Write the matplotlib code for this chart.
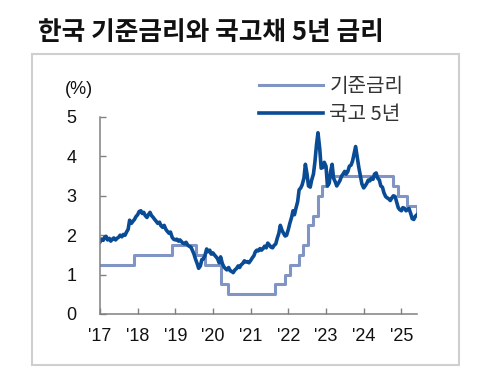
import matplotlib
matplotlib.use("Agg")
import matplotlib.pyplot as plt
import matplotlib.dates as mdates
from matplotlib.patches import Rectangle
import pandas as pd

plt.rcParams['font.family'] = ['Liberation Sans', 'Noto Sans CJK KR', 'DejaVu Sans']

title = "한국 기준금리와 국고채 5년 금리"
label_base = "기준금리"
label_bond = "국고 5년"
y_unit = "(%)"

# Bank of Korea base rate (change dates and new levels)
base_dates = ["2016-06-09", "2017-11-30", "2018-11-30", "2019-07-18", "2019-10-16",
              "2020-03-16", "2020-05-28", "2021-08-26", "2021-11-25", "2022-01-14",
              "2022-04-14", "2022-05-26", "2022-07-13", "2022-08-25", "2022-10-12",
              "2022-11-24", "2023-01-13", "2024-10-11", "2024-11-28", "2025-02-25",
              "2025-05-29", "2025-06-01"]
base_rates = [1.25, 1.50, 1.75, 1.50, 1.25,
              0.75, 0.50, 0.75, 1.00, 1.25,
              1.50, 1.75, 2.25, 2.50, 3.00,
              3.25, 3.50, 3.25, 3.00, 2.75,
              2.50, 2.50]

# KTB 5-year yield, semi-monthly (1st, 15th) from 2017-01-01
bond_2017 = [1.83, 1.90, 1.87, 1.95, 1.97, 1.88, 1.92, 1.85, 1.90, 1.93, 1.88, 1.92,
             1.95, 2.00, 1.96, 2.02, 2.00, 2.08, 2.15, 2.38, 2.30, 2.35, 2.40, 2.47]
bond_2018 = [2.52, 2.60, 2.62, 2.55, 2.58, 2.50, 2.45, 2.52, 2.58, 2.50, 2.45, 2.40,
             2.35, 2.30, 2.33, 2.24, 2.20, 2.25, 2.15, 2.10, 2.05, 2.08, 1.95, 1.90]
bond_2019 = [1.88, 1.90, 1.85, 1.88, 1.84, 1.80, 1.78, 1.82, 1.75, 1.72, 1.70, 1.62,
             1.52, 1.40, 1.28, 1.16, 1.22, 1.38, 1.40, 1.48, 1.65, 1.58, 1.62, 1.52]
bond_2020 = [1.55, 1.50, 1.45, 1.40, 1.30, 1.45, 1.28, 1.20, 1.15, 1.12, 1.18, 1.10,
             1.08, 1.05, 1.12, 1.15, 1.22, 1.18, 1.25, 1.28, 1.35, 1.32, 1.33, 1.30]
bond_2021 = [1.36, 1.42, 1.48, 1.58, 1.62, 1.60, 1.66, 1.62, 1.66, 1.72, 1.68, 1.80,
             1.75, 1.70, 1.68, 1.74, 1.78, 1.92, 2.05, 2.25, 2.12, 2.05, 1.98, 2.00]
bond_2022 = [2.15, 2.30, 2.45, 2.62, 2.52, 2.68, 2.85, 3.15, 3.20, 3.28, 3.45, 3.80,
             3.55, 3.25, 3.22, 3.40, 3.55, 3.85, 4.30, 4.60, 4.20, 3.70, 3.72, 3.85]
bond_2023 = [3.75, 3.25, 3.32, 3.62, 3.80, 3.45, 3.35, 3.25, 3.32, 3.38, 3.50, 3.55,
             3.62, 3.55, 3.62, 3.75, 3.78, 3.88, 4.08, 4.25, 3.95, 3.72, 3.50, 3.30]
bond_2024 = [3.20, 3.25, 3.32, 3.40, 3.38, 3.45, 3.42, 3.55, 3.58, 3.45, 3.40, 3.25,
             3.22, 3.08, 2.98, 2.95, 2.92, 2.88, 2.95, 3.00, 2.98, 2.85, 2.70, 2.65]
bond_2025 = [2.62, 2.70, 2.68, 2.62, 2.65, 2.68, 2.55, 2.42, 2.40, 2.48, 2.52]

x_tick_years = [2017, 2018, 2019, 2020, 2021, 2022, 2023, 2024, 2025]
x_tick_labels = ["'17", "'18", "'19", "'20", "'21", "'22", "'23", "'24", "'25"]
y_ticks = [0, 1, 2, 3, 4, 5]

bond_values = bond_2017 + bond_2018 + bond_2019 + bond_2020 + bond_2021 + bond_2022 + bond_2023 + bond_2024 + bond_2025
bond_dates = pd.date_range("2017-01-01", periods=len(bond_values), freq="SMS")
base_dt = pd.to_datetime(base_dates)

fig = plt.figure(figsize=(5.03, 3.77), dpi=100)
ax = fig.add_axes([100 / 503, 1 - 314 / 377, 317 / 503, 197 / 377])

c_base = "#8095c4"
c_bond = "#0a4b95"
ax.step(base_dt, base_rates, where="post", color=c_base, lw=2.2, label=label_base)
ax.plot(bond_dates, bond_values, color=c_bond, lw=2.6, label=label_bond)

ax.set_xlim(pd.Timestamp("2017-01-01"), pd.Timestamp("2025-06-01"))
ax.set_ylim(0, 5)
ax.set_yticks(y_ticks)
ax.set_yticklabels([str(v) for v in y_ticks])
ax.set_xticks([pd.Timestamp(f"{y}-01-01") for y in x_tick_years])
ax.set_xticklabels(x_tick_labels)

for s in ["top", "right"]:
    ax.spines[s].set_visible(False)
for s in ["left", "bottom"]:
    ax.spines[s].set_color("#808080")
    ax.spines[s].set_linewidth(1.1)
ax.tick_params(axis="both", direction="in", length=4.5, width=1.0, color="#808080",
               labelsize=13, labelcolor="#111111")
ax.tick_params(axis="y", pad=17)
ax.tick_params(axis="x", pad=10)

leg = ax.legend(loc="upper left", bbox_to_anchor=(259 / 503, 1 - 76 / 377),
                bbox_transform=fig.transFigure, frameon=False,
                prop={"family": ["Noto Sans CJK KR"], "size": 14.5},
                handlelength=3.2, handletextpad=0.3, labelspacing=0.35,
                borderaxespad=0, borderpad=0)
for t in leg.get_texts():
    t.set_color("#333333")

fig.text(65 / 503, 1 - 90 / 377, y_unit, fontsize=13, va="center", ha="left", color="#111111")
fig.text(38 / 503, 1 - 32 / 377, title, fontsize=18.5, fontweight="bold", va="center", ha="left",
         family=["Noto Sans CJK KR"], color="#111111")

fig.patches.append(Rectangle((32 / 503, 1 - 365 / 377), 427 / 503, 311 / 377,
                             transform=fig.transFigure, fill=False,
                             edgecolor="#cfcfcf", lw=1.5))

fig.savefig("out.png", dpi=100)
